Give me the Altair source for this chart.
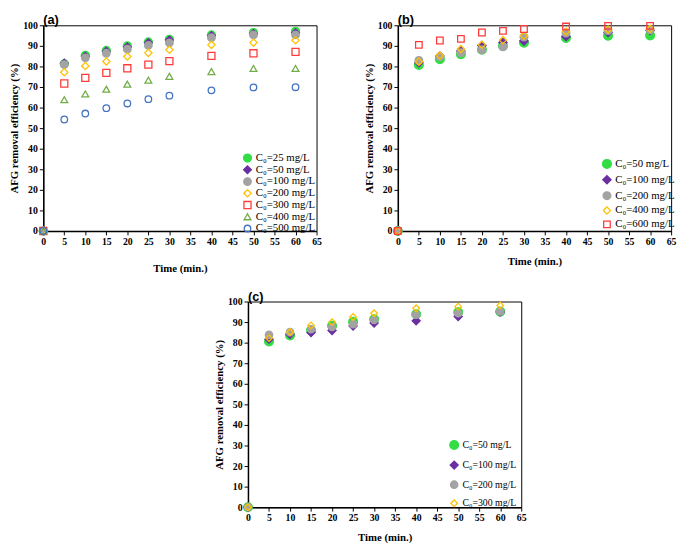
import altair as alt
import pandas as pd

time = [0, 5, 10, 15, 20, 25, 30, 40, 50, 60]

# Panel (a)
a_labels = ["C₀=25 mg/L", "C₀=50 mg/L", "C₀=100 mg/L", "C₀=200 mg/L",
            "C₀=300 mg/L", "C₀=400 mg/L", "C₀=500 mg/L"]
a25 = [0, 81.3, 85.4, 87.8, 90.0, 91.9, 93.2, 95.3, 96.5, 97.1]
a50 = [0, 81.6, 85.0, 87.4, 89.5, 91.5, 92.9, 95.0, 96.0, 96.4]
a100 = [0, 80.9, 84.2, 86.4, 88.4, 90.2, 91.5, 94.0, 95.3, 95.3]
a200 = [0, 77.2, 80.2, 82.4, 84.8, 86.6, 88.1, 90.5, 91.6, 92.7]
a300 = [0, 71.7, 74.4, 76.9, 79.1, 80.9, 82.6, 85.1, 86.4, 87.1]
a400 = [0, 63.8, 66.6, 68.9, 71.4, 73.3, 75.2, 77.5, 79.0, 79.0]
a500 = [0, 54.2, 57.1, 59.7, 62.0, 64.1, 65.8, 68.4, 69.8, 69.9]
a_values = [a25, a50, a100, a200, a300, a400, a500]

# Panel (b)
b_labels = ["C₀=50 mg/L", "C₀=100 mg/L", "C₀=200 mg/L", "C₀=400 mg/L", "C₀=600 mg/L"]
b50 = [0, 80.7, 83.5, 85.9, 88.1, 90.0, 91.5, 93.8, 94.9, 95.1]
b100 = [0, 81.8, 85.1, 87.5, 90.2, 91.6, 92.4, 94.6, 96.5, 97.5]
b200 = [0, 82.9, 84.8, 86.7, 88.1, 89.6, 94.3, 96.2, 97.5, 97.8]
b400 = [0, 82.3, 85.3, 88.5, 90.5, 92.8, 94.9, 97.0, 98.0, 98.3]
b600 = [0, 90.5, 92.6, 93.4, 96.5, 97.3, 98.2, 99.4, 99.7, 99.7]
b_values = [b50, b100, b200, b400, b600]

# Panel (c)
c_labels = ["C₀=50 mg/L", "C₀=100 mg/L", "C₀=200 mg/L", "C₀=300 mg/L"]
c50 = [0, 80.6, 83.5, 86.0, 88.2, 90.1, 91.4, 93.8, 94.8, 95.1]
c100 = [0, 81.7, 84.1, 84.9, 85.9, 88.1, 89.5, 90.6, 92.7, 94.9]
c200 = [0, 83.8, 85.1, 86.5, 87.6, 89.0, 91.1, 93.6, 94.3, 95.2]
c300 = [0, 82.2, 85.2, 88.4, 90.0, 92.5, 94.3, 96.7, 97.5, 98.1]
c_values = [c50, c100, c200, c300]

GREEN = "#33dd44"
PURPLE = "#6a2fa0"
GRAY = "#a3a3a3"
ORANGE = "#ffc000"
RED = "#ff3b3b"
LGREEN = "#70ad47"
BLUE = "#4472c4"

a_style = dict(colors=[GREEN, PURPLE, GRAY, ORANGE, RED, LGREEN, BLUE],
               fills=[GREEN, PURPLE, GRAY, "transparent", "transparent", "transparent", "transparent"],
               shapes=["circle", "diamond", "circle", "diamond", "square", "triangle-up", "circle"],
               sizes=[66, 45, 55, 50, 70, 62, 70])
b_style = dict(colors=[GREEN, PURPLE, GRAY, ORANGE, RED],
               fills=[GREEN, PURPLE, GRAY, "transparent", "transparent"],
               shapes=["circle", "diamond", "circle", "diamond", "square"],
               sizes=[80, 45, 65, 50, 90])
c_style = dict(colors=[GREEN, PURPLE, GRAY, ORANGE],
               fills=[GREEN, PURPLE, GRAY, "transparent"],
               shapes=["circle", "diamond", "circle", "diamond"],
               sizes=[80, 45, 65, 55])

SERIF = "Liberation Serif"
W, H = 279, 210


def panel(title, labels, values, style, field, lx, ly, lsize, lpad, xpad, clip=None):
    rows = []
    for lab, vals in zip(labels, values):
        for t, v in zip(time, vals):
            rows.append({"t": t, "v": v, field: lab})
    df = pd.DataFrame(rows)
    legend_opts = dict(orient="none", legendX=lx, legendY=ly, title=None,
                       labelFont=SERIF, labelFontSize=lsize, labelColor="black",
                       rowPadding=lpad, symbolStrokeWidth=1.3, labelOffset=3,
                       padding=0)
    if clip is not None:
        legend_opts["clipHeight"] = clip
    leg = alt.Legend(**legend_opts)
    xaxis = alt.Axis(values=list(range(0, 70, 5)), title="Time (min.)", grid=False,
                     tickSize=4, tickColor="black", domainColor="black", domainWidth=1.5,
                     labelFlush=False, labelOverlap=False, labelFont=SERIF,
                     labelFontWeight="bold", labelFontSize=10, labelColor="black",
                     labelPadding=2, titleFont=SERIF, titleFontWeight="bold",
                     titleFontSize=11, titleColor="black", titlePadding=xpad)
    yaxis = alt.Axis(values=list(range(0, 110, 10)), title="AFG removal efficiency (%)",
                     grid=False, tickSize=4, tickColor="black", domainColor="black",
                     domainWidth=1.5, labelFlush=False, labelOverlap=False,
                     labelFont=SERIF, labelFontWeight="bold", labelFontSize=10,
                     labelColor="black", labelPadding=2, titleFont=SERIF,
                     titleFontWeight="bold", titleFontSize=11, titleColor="black",
                     titlePadding=3)
    return alt.Chart(df).mark_point(opacity=1, strokeWidth=1.3).encode(
        x=alt.X("t:Q", scale=alt.Scale(domain=[0, 65], nice=False), axis=xaxis),
        y=alt.Y("v:Q", scale=alt.Scale(domain=[0, 100], nice=False), axis=yaxis),
        color=alt.Color(f"{field}:N", scale=alt.Scale(domain=labels, range=style["colors"]), legend=leg),
        fill=alt.Fill(f"{field}:N", scale=alt.Scale(domain=labels, range=style["fills"]), legend=leg),
        shape=alt.Shape(f"{field}:N", scale=alt.Scale(domain=labels, range=style["shapes"]), legend=leg),
        size=alt.Size(f"{field}:N", scale=alt.Scale(domain=labels, range=style["sizes"]), legend=leg),
    ).properties(
        width=W, height=H,
        title=alt.TitleParams(title, anchor="start", frame="group", font="Liberation Sans",
                              fontWeight="bold", fontSize=13, offset=-7, color="black"),
    )


pa = panel("(a)", a_labels, a_values, a_style, "sa", 203, 130, 11, 0, 16, clip=11)
pb = panel("(b)", b_labels, b_values, b_style, "sb", 208, 136, 11, 1.2, 9)
pc = panel("(c)", c_labels, c_values, c_style, "sc", 205, 141, 10, 6.0, 9)

spacer = alt.Chart(pd.DataFrame({"z": [0]})).mark_point(opacity=0).encode(
    x=alt.value(0), y=alt.value(0)
).properties(width=173, height=10, view=alt.ViewBackground(strokeOpacity=0))

res = dict(color="independent", fill="independent", shape="independent",
           size="independent", x="independent", y="independent")

top = alt.hconcat(pa, pb, spacing=41).resolve_scale(**res)
bottom = alt.hconcat(spacer, pc, spacing=0).resolve_scale(**res)
chart = alt.vconcat(top, bottom, spacing=16).resolve_scale(**res).properties(
    padding=0
).configure_view(stroke="black", strokeWidth=1)

chart.save("out.html", embed_options={"renderer": "svg", "actions": False})
